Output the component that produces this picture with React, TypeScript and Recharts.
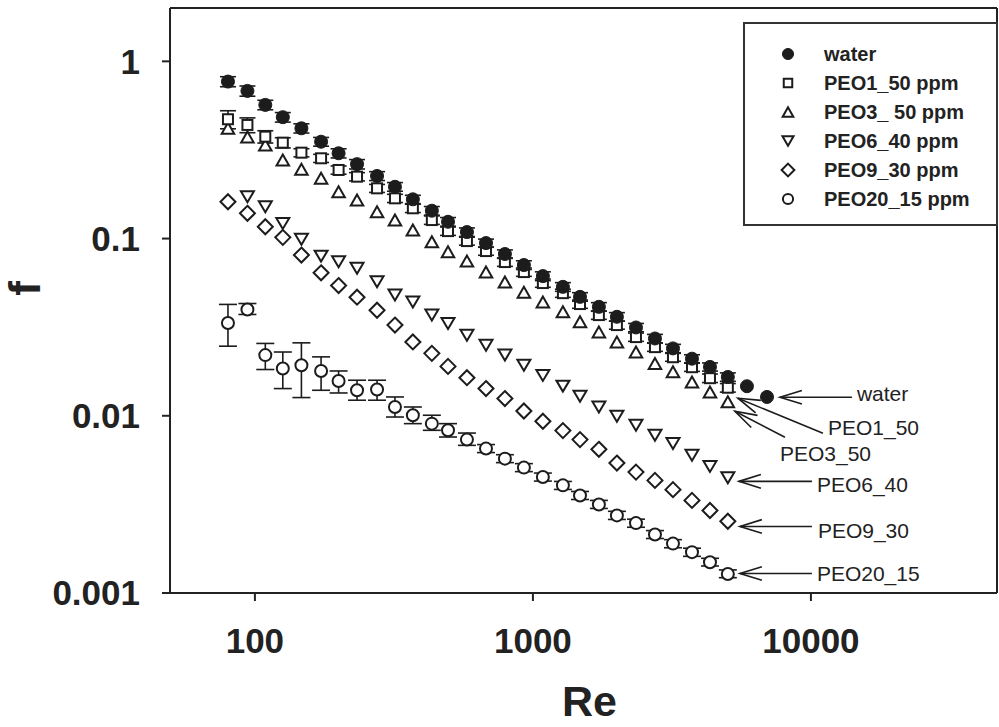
import React from 'react';
import { ScatterChart, Scatter, XAxis, YAxis, ErrorBar, Legend, ReferenceLine } from 'recharts';

// ---------- data ----------
const reynolds = [80, 94, 109, 126, 147, 173, 200, 233, 275, 319, 370, 433, 495, 579, 678, 793, 928, 1086, 1282, 1477, 1727, 2005, 2348, 2748, 3190, 3734, 4334, 5025, 5886, 6950];

const fWater = [0.769, 0.681, 0.568, 0.484, 0.419, 0.352, 0.303, 0.263, 0.2255, 0.196, 0.1665, 0.1436, 0.1244, 0.1088, 0.0943, 0.0818, 0.0709, 0.0614, 0.0534, 0.0469, 0.0412, 0.0362, 0.0315, 0.0273, 0.024, 0.021, 0.01887, 0.01656, 0.01468, 0.01277];
const errWater = [0.05, 0.045, 0.035, 0.03, 0.025, 0.02, 0.018, 0.016, 0.013, 0.011, 0.009, 0.008, 0.007, 0.006, 0.005, 0.0045, 0.004, 0.0035, 0.003, 0.0026, 0.0023, 0.002, 0.0017, 0.0015, 0.0013, 0.0011, 0.001, 0.0009, 0, 0];

const fPEO1 = [0.4713, 0.4377, 0.3759, 0.3476, 0.3053, 0.2838, 0.2438, 0.2235, 0.1921, 0.1687, 0.1482, 0.1272, 0.1102, 0.0968, 0.085, 0.0737, 0.0647, 0.0561, 0.0492, 0.0427, 0.037, 0.0325, 0.0278, 0.0244, 0.0214, 0.0188, 0.0163, 0.0144];
const errPEO1 = [0.055, 0.042, 0.03, 0.023, 0.016, 0.015, 0.013, 0.012, 0.01, 0.009, 0.008, 0.007, 0.006, 0.005, 0.0045, 0.004, 0.0035, 0.003, 0.0026, 0.0023, 0.002, 0.0017, 0.0015, 0.0013, 0.0011, 0.001, 0.0009, 0.0008];

const fPEO3 = [0.4195, 0.3745, 0.3375, 0.2777, 0.246, 0.2188, 0.1838, 0.165, 0.1417, 0.1272, 0.1117, 0.0959, 0.0842, 0.0746, 0.0647, 0.0568, 0.0498, 0.0438, 0.0386, 0.0339, 0.0297, 0.0261, 0.0229, 0.0197, 0.0177, 0.0155, 0.0136, 0.012];

const fPEO6 = [null, 0.1722, 0.1512, 0.1218, 0.099, 0.0796, 0.0739, 0.0679, 0.057, 0.048, 0.0439, 0.037, 0.0332, 0.0285, 0.025, 0.022, 0.0193, 0.0169, 0.0147, 0.0129, 0.0112, 0.00994, 0.00884, 0.00776, 0.00697, 0.00598, 0.00518, 0.00447];

const fPEO9 = [0.1614, 0.1388, 0.1166, 0.1016, 0.0807, 0.0641, 0.0543, 0.0467, 0.0394, 0.0325, 0.0261, 0.0225, 0.019, 0.0164, 0.01424, 0.01251, 0.01064, 0.00931, 0.00825, 0.00734, 0.00647, 0.00541, 0.00481, 0.00432, 0.00383, 0.00333, 0.00292, 0.00254];

const fPEO20 = [0.0334, 0.0398, 0.022, 0.01848, 0.0193, 0.0179, 0.01572, 0.01393, 0.01406, 0.01121, 0.01007, 0.00903, 0.00828, 0.00734, 0.00653, 0.00573, 0.0051, 0.00451, 0.00405, 0.00355, 0.00316, 0.00274, 0.00248, 0.00214, 0.0019, 0.0017, 0.00149, 0.00128];
const hiPEO20 = [0.0425, 0.043, 0.0256, 0.0229, 0.0258, 0.0215, 0.0179, 0.01587, 0.01587, 0.01277, 0.01121, 0.01007, 0.00903, 0.00799, 0.00688, 0.00603, 0.00537, 0.00475, 0.00426, 0.00374, 0.00333, 0.00289, 0.00261, 0.00225, 0.002, 0.00179, 0.00157, 0.00135];
const loPEO20 = [0.0247, 0.0373, 0.01824, 0.01424, 0.01267, 0.01393, 0.01345, 0.01224, 0.01224, 0.00984, 0.00903, 0.00828, 0.00759, 0.00681, 0.0062, 0.00544, 0.00484, 0.00428, 0.00384, 0.00337, 0.003, 0.0026, 0.00235, 0.00203, 0.0018, 0.00161, 0.00142, 0.00122];

const xTicks = [100, 1000, 10000];
const yTicks = [0.001, 0.01, 0.1, 1];

const seriesNames = ['water', 'PEO1_50 ppm', 'PEO3_ 50 ppm', 'PEO6_40 ppm', 'PEO9_30 ppm', 'PEO20_15 ppm'];

// annotation arrows: tip and tail in data coordinates
const annotations = [
  { text: 'water', tip: [7737, 0.01272], tail: [14045, 0.01272], dx: 5, dy: -4 },
  { text: 'PEO1_50', tip: [5463, 0.01256], tail: [11046, 0.00796], dx: 5, dy: -6 },
  { text: 'PEO3_50', tip: [5328, 0.0106], tail: [8063, 0.00756], dx: -5, dy: 16 },
  { text: 'PEO6_40', tip: [5509, 0.004265], tail: [10083, 0.004265], dx: 5, dy: 3 },
  { text: 'PEO9_30', tip: [5554, 0.002375], tail: [10083, 0.002375], dx: 6, dy: 4 },
  { text: 'PEO20_15', tip: [5554, 0.001289], tail: [10083, 0.001289], dx: 5, dy: 0 },
];

const xDomain: [number, number] = [49.5, 46700];
const yDomain: [number, number] = [0.001, 2];

// ---------- helpers ----------
type Row = { re: number; f: number; err?: number | number[] };

function buildRows(f: (number | null)[], err?: (number | number[])[]): Row[] {
  const out: Row[] = [];
  f.forEach((v, i) => {
    if (v == null) return;
    const r: Row = { re: reynolds[i], f: v };
    if (err) r.err = err[i];
    out.push(r);
  });
  return out;
}

const asymErr = fPEO20.map((v, i) => [v - loPEO20[i], hiPEO20[i] - v]);

const dataWater = buildRows(fWater, errWater);
const dataPEO1 = buildRows(fPEO1, errPEO1);
const dataPEO3 = buildRows(fPEO3);
const dataPEO6 = buildRows(fPEO6);
const dataPEO9 = buildRows(fPEO9);
const dataPEO20 = buildRows(fPEO20, asymErr);

const INK = '#1c1c1c';
const FONT = '"Liberation Sans", Arial, Helvetica, sans-serif';

type Kind = 'filled' | 'square' | 'up' | 'down' | 'diamond' | 'circle';
const kinds: Kind[] = ['filled', 'square', 'up', 'down', 'diamond', 'circle'];

function Marker({ kind, cx, cy, s = 1 }: { kind: Kind; cx: number; cy: number; s?: number }) {
  const sw = 2;
  switch (kind) {
    case 'filled':
      return <circle cx={cx} cy={cy} r={6.5 * s} fill={INK} stroke={INK} strokeWidth={1} />;
    case 'square':
      return <rect x={cx - 5 * s} y={cy - 5 * s} width={10 * s} height={10 * s} fill="#fff" stroke={INK} strokeWidth={sw} />;
    case 'up': {
      const w = 12.5 * s, h = 11 * s;
      return <polygon points={`${cx},${cy - h / 2} ${cx - w / 2},${cy + h / 2} ${cx + w / 2},${cy + h / 2}`} fill="#fff" stroke={INK} strokeWidth={sw} />;
    }
    case 'down': {
      const w = 13 * s, h = 11 * s;
      return <polygon points={`${cx},${cy + h / 2} ${cx - w / 2},${cy - h / 2} ${cx + w / 2},${cy - h / 2}`} fill="#fff" stroke={INK} strokeWidth={sw} />;
    }
    case 'diamond': {
      const r = 7.5 * s;
      return <polygon points={`${cx},${cy - r} ${cx + r},${cy} ${cx},${cy + r} ${cx - r},${cy}`} fill="#fff" stroke={INK} strokeWidth={sw} />;
    }
    case 'circle':
    default:
      return <circle cx={cx} cy={cy} r={6 * s} fill="#fff" stroke={INK} strokeWidth={sw} />;
  }
}

const shapeFor = (kind: Kind) => (props: any) => <Marker kind={kind} cx={props.cx} cy={props.cy} />;

function arrowShape(text: string, dx: number, dy: number) {
  return (props: any) => {
    const { x1, y1, x2, y2 } = props;
    if (x1 == null || y1 == null) return <g />;
    const ang = Math.atan2(y2 - y1, x2 - x1);
    const L = 23, a = 0.3;
    const pA = [x1 + L * Math.cos(ang + a), y1 + L * Math.sin(ang + a)];
    const pB = [x1 + L * Math.cos(ang - a), y1 + L * Math.sin(ang - a)];
    return (
      <g>
        <line x1={x1} y1={y1} x2={x2} y2={y2} stroke={INK} strokeWidth={1.6} />
        <polyline points={`${pA[0]},${pA[1]} ${x1},${y1} ${pB[0]},${pB[1]}`} fill="none" stroke={INK} strokeWidth={1.6} />
        <text x={x2 + dx} y={y2 + dy} dominantBaseline="central" fontFamily={FONT} fontSize={21} fill="#222">{text}</text>
      </g>
    );
  };
}

const frameShape = (props: any) => {
  const { x1, y1, x2, y2 } = props;
  return <line x1={x1} y1={y1} x2={x2} y2={y2} stroke="#222" strokeWidth={2} />;
};

function YTitle(props: any) {
  const vb = props.viewBox || { x: 0, y: 0, width: 0, height: 0 };
  const cx = vb.x + 24;
  const cy = vb.y + vb.height / 2 - 12;
  return (
    <text x={cx} y={cy} transform={`rotate(-90 ${cx} ${cy})`} textAnchor="middle" dominantBaseline="central" fontFamily={FONT} fontWeight={700} fontSize={44} fill="#222">f</text>
  );
}

function LegendBox() {
  return (
    <div style={{ width: 255, height: 204, border: `2px solid #333`, boxSizing: 'border-box', background: '#fff', position: 'relative' }}>
      {seriesNames.map((name, i) => (
        <div key={name} style={{ position: 'absolute', left: 0, top: 30 + i * 29 - 15, height: 30, width: 253 }}>
          <svg width={30} height={30} style={{ position: 'absolute', left: 28, top: 0 }}>
            <Marker kind={kinds[i]} cx={15} cy={15} s={0.85} />
          </svg>
          <span style={{ position: 'absolute', left: 79, top: 0, lineHeight: '30px', fontFamily: FONT, fontWeight: 700, fontSize: 20, color: '#222', whiteSpace: 'nowrap' }}>{name}</span>
        </div>
      ))}
    </div>
  );
}

const tickStyle = { fontFamily: FONT, fontWeight: 700, fontSize: 35, fill: '#222' };
const axisLine = { stroke: '#222', strokeWidth: 2 };

export default function App() {
  return (
    <div style={{ position: 'absolute', left: 0, top: 0, width: 999, height: 727, background: '#fff' }}>
      <ScatterChart width={999} height={727} margin={{ top: 8, right: 2, bottom: 0, left: 0 }}>
        <XAxis
          dataKey="re"
          type="number"
          scale="log"
          domain={xDomain}
          allowDataOverflow
          ticks={xTicks}
          tickFormatter={(v: number) => String(v)}
          height={134}
          tickSize={8}
          tickMargin={27}
          tick={tickStyle}
          axisLine={axisLine}
          tickLine={axisLine}
          label={{ value: 'Re', position: 'insideBottom', offset: 11, dx: 6, style: { fontFamily: FONT, fontWeight: 700, fontSize: 43, fill: '#222' } }}
        />
        <YAxis
          dataKey="f"
          type="number"
          scale="log"
          domain={yDomain}
          allowDataOverflow
          ticks={yTicks}
          tickFormatter={(v: number) => String(v)}
          width={170}
          tickSize={8}
          tickMargin={22}
          tick={tickStyle}
          axisLine={axisLine}
          tickLine={axisLine}
          label={{ content: (p: any) => <YTitle {...p} /> }}
        />

        <ReferenceLine y={yDomain[1]} ifOverflow="visible" shape={frameShape} />
        <ReferenceLine x={xDomain[1]} ifOverflow="visible" shape={frameShape} />

        <Scatter name={seriesNames[5]} data={dataPEO20} shape={shapeFor('circle')} isAnimationActive={false}>
          <ErrorBar dataKey="err" direction="y" width={9} stroke={INK} strokeWidth={1.6} isAnimationActive={false} />
        </Scatter>
        <Scatter name={seriesNames[4]} data={dataPEO9} shape={shapeFor('diamond')} isAnimationActive={false} />
        <Scatter name={seriesNames[3]} data={dataPEO6} shape={shapeFor('down')} isAnimationActive={false} />
        <Scatter name={seriesNames[2]} data={dataPEO3} shape={shapeFor('up')} isAnimationActive={false} />
        <Scatter name={seriesNames[1]} data={dataPEO1} shape={shapeFor('square')} isAnimationActive={false}>
          <ErrorBar dataKey="err" direction="y" width={8} stroke={INK} strokeWidth={1.6} isAnimationActive={false} />
        </Scatter>
        <Scatter name={seriesNames[0]} data={dataWater} shape={shapeFor('filled')} isAnimationActive={false}>
          <ErrorBar dataKey="err" direction="y" width={8} stroke={INK} strokeWidth={1.6} isAnimationActive={false} />
        </Scatter>

        {annotations.map((a) => (
          <ReferenceLine
            key={a.text}
            segment={[{ x: a.tip[0], y: a.tip[1] }, { x: a.tail[0], y: a.tail[1] }]}
            ifOverflow="visible"
            shape={arrowShape(a.text, a.dx, a.dy)}
          />
        ))}

        <Legend
          layout="vertical"
          verticalAlign="middle"
          align="center"
          wrapperStyle={{ position: 'absolute', left: 743, top: 22, width: 255, height: 204 }}
          content={() => <LegendBox />}
        />
      </ScatterChart>
    </div>
  );
}
